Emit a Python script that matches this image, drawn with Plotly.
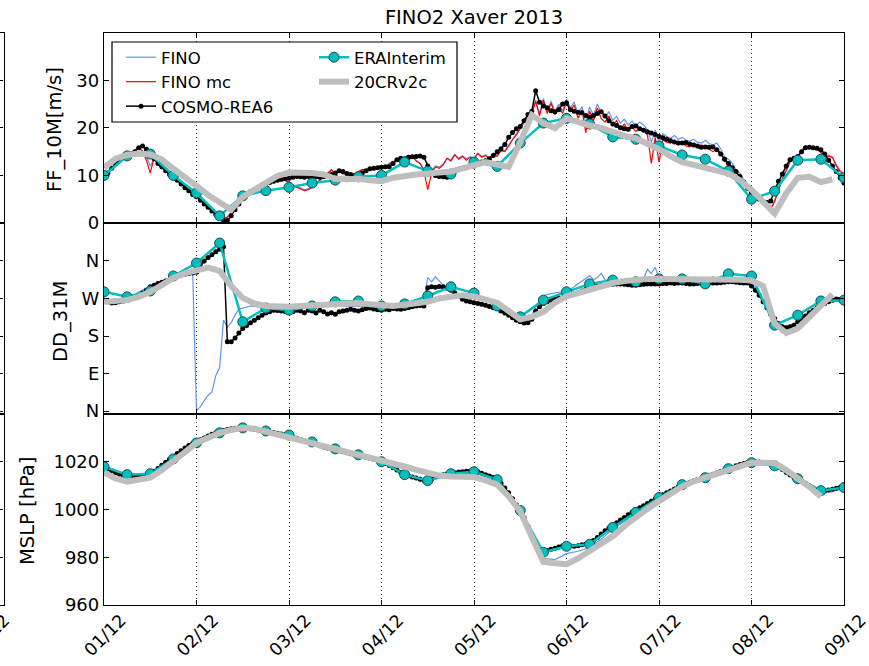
import pandas as pd
import plotly.graph_objects as go

W, H = 869, 666
T0 = "2013-12-01 00:00"

# ---------------- data ----------------
# FF_10M [m/s], hourly
ff_fino = [
    9.8,10.6,11.6,12.2,13.3,14.2,14.0,14.6, 15.4,15.8,15.2,13.8,12.0,13.5,12.5,11.6, 11.0,10.2,9.6,9.0,8.2,7.6,6.8,6.0,
    5.4,4.9,4.0,3.2,2.6,1.8,1.4,1.1, 1.3,2.2,3.3,4.4,5.2,6.2,6.9,7.4, 7.5,8.1,8.2,8.6,8.6,9.0,9.0,9.0,
    8.6,8.0,7.6,7.4,7.0,7.2,7.6,8.4, 9.0,9.8,10.5,11.0,10.5,10.8,10.5,10.6, 10.0,10.4,10.9,11.2,11.2,11.6,11.6,11.9,
    12.1,11.9,12.5,12.9,13.3,13.0,13.6,13.4, 14.0,13.2,12.6,11.4,10.5,11.0,12.0,11.8, 12.4,13.6,13.3,14.4,13.6,14.1,13.5,13.9,
    13.7,14.7,14.0,14.3,13.7,14.7,14.2,15.3, 15.2,16.4,17.7,18.8,20.0,21.3,22.8,23.4, 25.8,23.0,26.2,23.6,25.6,23.4,25.0,23.6,
    26.0,24.2,25.4,23.0,24.5,21.0,24.4,22.6, 25.0,23.2,22.2,23.4,21.6,22.4,21.0,21.8, 20.6,21.4,20.4,21.2,20.6,19.6,17.0,19.5,
    17.0,18.8,18.2,17.8,18.4,17.6,18.0,17.4, 17.2,17.6,17.0,16.8,17.4,16.7,16.4,16.8, 15.6,14.0,13.4,12.6,11.2,10.4,9.0,7.6,
    6.3,5.6,5.0,4.0,3.6,3.2,4.7,7.2, 9.4,11.2,13.0,13.7,14.0,15.4,16.2,16.0, 15.7,15.8,15.0,14.2,14.2,13.9,12.2,11.0, 10.4]
ff_fino_mc = [
    9.5,10.8,11.8,12.0,13.5,14.0,13.8,14.8, 15.2,16.0,15.0,13.2,10.5,13.8,12.2,11.5, 11.2,10.0,9.5,9.2,8.0,7.8,6.5,6.2,
    5.2,5.0,4.2,3.0,2.8,1.6,1.5,1.0, 1.2,2.0,3.2,4.5,5.0,6.4,6.8,7.5, 7.2,8.3,8.0,8.9,8.4,9.3,8.8,9.0,
    8.5,7.8,7.5,7.2,6.8,7.0,7.5,8.2, 9.0,9.6,10.4,11.2,10.2,10.8,10.3,10.6, 9.8,10.4,10.8,11.2,11.0,11.6,11.4,11.8,
    12.0,11.6,12.4,12.8,13.2,12.8,13.6,13.2, 14.0,13.0,12.5,11.0,7.0,10.5,11.8,11.5, 12.2,13.6,13.0,14.3,13.4,14.0,13.2,13.8,
    13.5,14.6,13.8,14.2,13.5,14.6,14.0,15.2, 15.0,16.2,17.5,18.5,19.8,21.0,22.5,23.0, 25.5,22.5,25.8,23.0,25.2,22.8,24.5,23.0,
    25.5,23.5,24.8,22.0,23.8,19.0,23.5,21.5, 24.2,22.0,21.2,22.5,20.5,21.5,19.8,20.8, 19.5,20.2,19.2,20.0,19.4,18.5,12.5,18.0,
    12.8,17.5,17.0,16.8,17.2,16.5,16.8,16.2, 16.0,16.5,15.8,15.5,16.2,15.5,15.0,15.6, 14.8,13.0,12.5,11.8,10.5,9.8,8.5,7.2,
    6.0,5.5,4.8,3.8,3.4,3.0,4.5,7.0, 9.2,11.0,12.8,13.5,13.8,15.2,16.0,15.8, 15.5,15.6,14.8,14.0,14.0,13.8,12.0,10.8, 10.2]
ff_cosmo = [
    10.0,10.5,11.5,12.5,13.2,13.8,14.2,14.5, 15.0,15.8,16.2,15.5,14.5,13.5,12.5,11.8, 11.0,10.2,9.6,9.0,8.2,7.4,6.8,6.0,
    5.5,4.8,4.0,3.3,2.5,1.8,1.2,0.6, 0.5,1.5,2.8,4.0,5.3,6.0,6.6,7.0, 7.5,8.0,8.3,8.5,8.8,9.0,9.2,9.3,
    9.4,9.6,9.8,9.7,9.6,9.8,9.6,9.7, 9.6,9.7,10.0,10.2,10.5,11.0,10.8,10.4, 10.2,10.0,10.2,10.5,11.0,11.4,11.5,11.6,
    11.7,11.8,11.8,12.5,13.3,13.6,13.5,13.8, 13.9,14.0,14.1,13.8,12.0,10.5,10.0,9.8, 9.7,9.6,10.2,10.8,11.3,11.5,11.6,11.8,
    12.0,12.3,12.8,13.1,13.5,14.2,15.0,15.6, 16.5,18.0,19.0,19.8,20.3,21.5,22.8,23.5, 27.8,25.4,24.6,24.2,23.6,23.4,23.8,25.0,
    25.3,23.8,23.5,23.3,23.2,22.6,22.2,22.6, 23.0,23.4,22.5,21.5,20.8,20.5,20.0,19.8, 19.7,20.3,20.4,19.8,19.5,19.2,18.9,18.6,
    18.2,17.9,17.6,17.3,17.0,16.8,16.8,16.9, 16.6,16.4,16.2,16.0,16.0,15.9,16.0,15.4, 14.5,13.4,12.5,11.6,10.8,9.8,8.6,7.3,
    6.4,5.5,5.0,4.5,4.3,4.6,7.0,8.8, 10.3,12.0,13.3,13.6,14.0,15.0,15.8,15.9, 15.8,15.7,15.4,14.5,13.2,12.0,10.8,9.5, 8.4]
# 6-hourly
ff_era = [10.0,14.1,14.5,10.0,6.3,1.5,5.7,6.8,7.5,8.4,9.0,9.7,10.0,12.8,10.9,10.3,12.8,
          11.9,16.8,21.0,22.0,20.8,18.1,17.6,16.2,14.3,13.4,10.9,5.0,6.7,13.2,13.4,9.5]
# 3-hourly
ff_20cr = [11.6,13.5,14.3,14.6,14.4,13.4,11.4,9.4, 7.8,5.9,4.2,2.8,5.5,6.9,8.6,9.9,
           10.6,10.6,10.5,10.2,9.3,9.2,9.3,9.0, 8.8,9.5,10.0,10.2,10.4,10.6,10.8,11.5,
           12.2,12.8,12.3,11.8,17.0,22.7,21.0,19.9, 22.0,21.2,20.5,20.0,19.0,18.3,17.8,16.8,
           15.5,14.0,12.8,12.2,11.7,11.0,10.4,9.0, 7.0,4.5,2.0,6.2,9.5,9.7,8.6,9.2, None]

# DD_31M [deg], hourly
dd_fino = [
    262,260,258,262,265,268,272,275, 280,285,290,296,300,305,308,312, 316,320,324,327,329,331,333,334,
    2,10,25,38,46,85,105,218, 202,212,230,245,247,250,252,251, 250,252,250,252,251,250,252,250,
    250,249,248,250,252,251,250,253, 255,252,250,253,256,254,252,251, 250,252,253,251,250,252,254,252,
    250,252,251,253,255,254,256,258, 260,262,263,265,320,310,322,312, 302,298,292,285,278,272,268,265,
    262,260,258,256,254,252,250,246, 241,236,230,224,220,216,218,228, 250,262,275,280,282,284,285,286,
    288,292,298,305,312,318,325,315, 320,330,315,312,313,315,312,314, 316,318,312,314,318,340,330,345,
    318,312,310,312,310,311,310,312, 310,311,312,310,311,316,322,318, 315,325,318,316,314,313,312,310,
    305,295,280,265,250,235,222,212, 206,204,206,210,216,222,230,238, 244,250,256,260,264,268,272,270, 268]
dd_cosmo = [
    266,262,259,260,262,264,266,270, 274,278,283,290,298,302,306,309, 312,315,320,323,326,328,330,331,
    333,345,360,368,375,382,388,394, 166,166,175,187,198,205,212,218, 224,230,235,238,242,241,240,239,
    240,238,242,240,236,242,240,235, 242,238,233,236,232,238,240,242, 244,242,240,243,246,247,245,243,
    242,244,243,246,245,244,246,248, 250,252,253,252,296,298,297,299, 298,295,290,284,276,268,264,262,
    260,258,256,254,251,248,246,240, 235,230,224,218,214,211,212,220, 240,250,258,262,266,269,271,272,
    274,278,281,284,288,292,295,298, 300,301,302,303,304,305,305,304, 303,302,302,303,304,305,305,305,
    305,306,306,307,306,307,307,306, 305,305,306,307,306,307,307,307, 308,309,310,310,309,308,307,307,
    300,290,278,262,248,232,222,210, 202,200,202,206,214,220,228,236, 242,248,254,258,262,266,269,268, 266]
dd_era = [286,274,288,324,355,403,214,247,242,252,262,264,252,257,276,298,283,
          252,226,266,286,305,314,310,317,317,305,329,324,206,230,264,266]
dd_20cr = [262,264,266,274,286,302,319,330, 338,344,336,300,271,258,252,250,
           250,252,253,254,256,258,259,256, 253,252,255,258,262,270,275,278,
           275,268,260,240,220,226,238,260, 275,283,292,300,307,312,315,317,
           317,317,317,317,317,317,316,315, 313,300,210,187,198,225,255,280, None]

# MSLP [hPa]
p_fino = [1017.5,1015.0,1013.5,1013.2,1014.2,1017.0,1020.6,1024.3,
          1027.8,1030.4,1032.2,1033.6,1034.0,1033.6,1032.7,1031.8,
          1030.8,1029.2,1027.8,1026.5,1025.0,1023.8,1022.5,1021.4,
          1019.8,1017.2,1014.2,1012.8,1011.8,1013.8,1014.8,1015.6,
          1016.0,1014.4,1012.6,1006.8,999.0,988.5,979.5,979.0,
          981.5,982.5,984.0,987.5,991.8,995.0,998.4,1001.8,
          1004.8,1007.8,1010.2,1011.8,1013.4,1014.9,1016.9,1018.7,
          1019.6,1019.4,1018.4,1015.2,1012.2,1009.2,1007.0,1007.5, 1009.2]  # 3-hourly
p_cosmo = [
    1017.9,1017.0,1016.2,1015.4,1014.8,1014.2,1013.8,1013.6, 1013.6,1013.8,1014.0,1014.4,1015.0,1016.0,1017.2,1018.5,
    1019.8,1021.0,1022.2,1023.5,1024.6,1025.8,1026.8,1027.6,
    1028.4,1029.2,1030.0,1030.8,1031.5,1032.1,1032.6,1033.1, 1033.5,1033.8,1034.0,1034.2,1034.2,1034.0,1033.8,1033.6,
    1033.3,1033.0,1032.8,1032.5,1032.2,1031.9,1031.6,1031.3,
    1031.0,1030.4,1029.8,1029.2,1028.7,1028.2,1027.9,1027.2, 1026.7,1026.2,1025.8,1025.4,1025.0,1024.6,1024.2,1023.8,
    1023.3,1022.9,1022.5,1022.2,1021.9,1021.5,1021.0,1020.5,
    1020.0,1019.3,1018.4,1017.5,1016.5,1015.5,1014.6,1014.1, 1013.6,1013.2,1012.7,1012.3,1012.1,1012.8,1013.6,1014.2,
    1014.6,1014.9,1015.1,1015.4,1015.7,1015.8,1016.0,1016.1,
    1016.2,1015.8,1015.2,1014.6,1014.0,1013.4,1012.9,1011.0, 1009.0,1007.0,1004.5,1002.0,999.6,996.5,993.0,989.5,
    986.5,983.5,982.1,982.8,983.3,983.8,984.3,984.8,
    985.0,984.8,984.6,984.8,985.2,985.6,985.9,987.0, 988.3,989.7,991.1,992.3,993.4,994.5,995.6,996.7,
    997.8,998.9,999.8,1000.7,1001.6,1002.5,1003.5,1004.4,
    1005.3,1006.2,1007.0,1007.8,1008.6,1009.4,1010.2,1010.8, 1011.4,1012.0,1012.6,1013.2,1013.8,1014.3,1014.8,1015.3,
    1015.9,1016.5,1017.1,1017.7,1018.3,1018.8,1019.3,1019.7,
    1020.0,1020.0,1019.9,1019.7,1019.5,1019.0,1018.6,1017.8, 1016.8,1015.6,1014.4,1013.4,1012.7,1011.9,1011.0,1010.0,
    1009.0,1008.2,1007.8,1007.9,1008.2,1008.5,1008.9,1009.3, 1009.6]
p_era = [1017.9,1014.6,1015.0,1021.2,1027.9,1032.1,1034.2,1032.9,1031.2,1028.3,1025.4,
         1022.9,1020.0,1014.6,1012.1,1015.0,1015.8,1012.5,999.6,982.1,984.6,985.4,992.5,
         998.8,1005.0,1010.4,1013.3,1017.1,1019.6,1018.3,1012.9,1007.9,1009.2]
p_20cr = [1015.5,1013.0,1011.7,1012.2,1013.3,1016.5,1020.0,1024.0,
          1027.9,1030.2,1032.1,1033.3,1034.2,1033.8,1032.6,1031.5,
          1030.4,1029.4,1028.2,1027.0,1025.8,1024.6,1023.4,1021.9,
          1020.6,1019.2,1018.0,1016.6,1015.2,1014.2,1013.8,1013.8,
          1013.6,1012.2,1010.4,1005.5,999.2,988.5,978.0,977.5,
          977.1,979.5,982.5,985.3,988.8,993.0,996.8,1000.3,
          1003.5,1006.7,1009.6,1011.8,1013.5,1015.1,1016.5,1018.1,
          1019.6,1019.8,1019.5,1016.5,1013.3,1009.5,1005.4,None, None]

day_ticks = [d.strftime("%Y-%m-%d") for d in pd.date_range("2013-12-01", "2013-12-09", freq="D")]
ff_ticks = [0, 10, 20, 30]
dd_ticks = [0, 90, 180, 270, 360]
dd_labels = ["N", "E", "S", "W", "N"]
p_ticks = [960, 980, 1000, 1020]
ylabels = ["FF_10M[m/s]", "DD_31M", "MSLP [hPa]"]


def times(n, freq):
    return pd.date_range(T0, periods=n, freq=freq)


# ---------------- style ----------------
FONT = "DejaVu Sans"
C_FINO, C_MC, C_COSMO, C_ERA, C_20 = "#6495ED", "#FF0000", "#000000", "#00BFBF", "#BEBEBE"

fig = go.Figure()


def add_panel(k, fino, fino_freq, mc, cosmo, era, cr):
    xa = "x" if k == 1 else f"x{k}"
    ya = "y" if k == 1 else f"y{k}"
    show = k == 1
    fig.add_trace(go.Scatter(x=times(len(fino), fino_freq), y=fino, mode="lines", name="FINO",
                             line=dict(color=C_FINO, width=1.2), xaxis=xa, yaxis=ya,
                             legend="legend", legendgroup="fino", showlegend=show))
    if mc is not None:
        fig.add_trace(go.Scatter(x=times(len(mc), "h"), y=mc, mode="lines", name="FINO mc",
                                 line=dict(color=C_MC, width=1.2), xaxis=xa, yaxis=ya,
                                 legend="legend", legendgroup="mc", showlegend=show))
    fig.add_trace(go.Scatter(x=times(len(cosmo), "h"), y=cosmo, mode="lines+markers", name="COSMO-REA6",
                             line=dict(color=C_COSMO, width=1.5),
                             marker=dict(color=C_COSMO, size=5, symbol="circle"),
                             xaxis=xa, yaxis=ya, legend="legend", legendgroup="cosmo", showlegend=show))
    fig.add_trace(go.Scatter(x=times(len(era), "6h"), y=era, mode="lines+markers", name="ERAInterim",
                             line=dict(color=C_ERA, width=2.5),
                             marker=dict(color=C_ERA, size=10, symbol="circle",
                                         line=dict(color="#1f4f4f", width=1)),
                             xaxis=xa, yaxis=ya, legend="legend2", legendgroup="era", showlegend=show))
    fig.add_trace(go.Scatter(x=times(len(cr), "3h"), y=cr, mode="lines", name="20CRv2c",
                             line=dict(color=C_20, width=6), xaxis=xa, yaxis=ya,
                             legend="legend2", legendgroup="cr", showlegend=show))


add_panel(1, ff_fino, "h", ff_fino_mc, ff_cosmo, ff_era, ff_20cr)
add_panel(2, dd_fino, "h", None, dd_cosmo, dd_era, dd_20cr)
add_panel(3, p_fino, "3h", None, p_cosmo, p_era, p_20cr)

# stub of the neighbouring panel on the far left (only its right edge is visible)
for k in (4, 5, 6):
    fig.add_trace(go.Scatter(x=[], y=[], xaxis=f"x{k}", yaxis=f"y{k}", showlegend=False))

# ---------------- layout ----------------
def px(v):
    return v / W


def py(v):
    return 1 - v / H


rows = [(32.7, 223.0), (223.0, 414.0), (414.0, 605.0)]
x_dom = [px(104), px(844)]
stub_dom = [0, px(3.5)]

axis_line = dict(showline=True, linecolor="black", linewidth=1.3, zeroline=False, automargin=False)
tickfont = dict(family=FONT, size=18, color="black")
xtickfont = dict(family=FONT, size=17.5, color="black")

layout = dict(
    template="none",
    width=W, height=H, margin=dict(l=0, r=0, t=0, b=0, pad=0, autoexpand=False),
    paper_bgcolor="white", plot_bgcolor="white",
    font=dict(family=FONT, color="black"),
    title=dict(text="FINO2 Xaver 2013", x=px(474), xanchor="center", y=py(17), yanchor="middle",
               xref="paper", yref="container", automargin=False,
               font=dict(family=FONT, size=19.5, color="black")),
    showlegend=True,
)

yranges = [[0, 40], [-7, 451], [960, 1040]]
ytickvals = [ff_ticks, dd_ticks, p_ticks]
yticktext = [[str(v) for v in ff_ticks], dd_labels, [str(v) for v in p_ticks]]

for i, (top, bot) in enumerate(rows):
    k = i + 1
    xname = "xaxis" if k == 1 else f"xaxis{k}"
    yname = "yaxis" if k == 1 else f"yaxis{k}"
    xref = "x" if k == 1 else f"x{k}"
    yref = "y" if k == 1 else f"y{k}"
    layout[xname] = dict(
        type="date", domain=x_dom, anchor=yref, range=["2013-12-01", "2013-12-09"],
        tickvals=day_ticks, tickformat="%d/%m", tickangle=-45,
        showticklabels=(k == 3), tickfont=xtickfont, ticklabelshift=17, ticklabelstandoff=-3,
        ticklabeloverflow="allow",
        ticks="inside", ticklen=5, tickwidth=1, tickcolor="black", mirror="ticks",
        showgrid=True, gridcolor="#333333", griddash="1px,3px", gridwidth=1,
        **axis_line,
    )
    if k > 1:
        layout[xname]["matches"] = "x"
    layout[yname] = dict(
        domain=[py(bot), py(top)], anchor=xref, range=yranges[i],
        tickvals=ytickvals[i], ticktext=yticktext[i], tickfont=tickfont,
        ticks="inside", ticklen=5, tickwidth=1, tickcolor="black", mirror="ticks",
        showgrid=False, **axis_line,
    )
    # stub axes
    sk = k + 3
    layout[f"xaxis{sk}"] = dict(
        type="date", domain=stub_dom, anchor=f"y{sk}", range=["2013-12-08 20:00", "2013-12-09"],
        tickvals=["2013-12-09"], tickformat="%d/%m", tickangle=-45, showticklabels=(k == 3),
        tickfont=xtickfont, ticklabelshift=1, ticklabelstandoff=-3, ticklabeloverflow="allow",
        ticks="", mirror=True, showgrid=False, **axis_line,
    )
    layout[f"yaxis{sk}"] = dict(
        domain=[py(bot), py(top)], anchor=f"x{sk}", range=yranges[i], side="right",
        tickvals=ytickvals[i], showticklabels=False, ticks="inside", ticklen=5,
        tickcolor="black", showgrid=False, **axis_line,
    )

leg_common = dict(yanchor="top", xanchor="left", bgcolor="rgba(0,0,0,0)", borderwidth=0,
                  font=dict(family=FONT, size=16.5, color="black"), tracegroupgap=0,
                  itemwidth=30, orientation="v")
layout["legend"] = dict(x=px(121), y=py(40), **leg_common)
layout["legend2"] = dict(x=px(314), y=py(40), **leg_common)

layout["shapes"] = [dict(type="rect", xref="paper", yref="paper", x0=px(112), x1=px(457),
                         y0=py(122), y1=py(42), line=dict(color="black", width=1.2),
                         fillcolor="white", layer="above")]

ylab_pos = [(55, 130), (60, 321), (27, 511)]
layout["annotations"] = [
    dict(text=t, x=px(xp), y=py(yp), xref="paper", yref="paper", showarrow=False,
         textangle=-90, xanchor="center", yanchor="middle",
         font=dict(family=FONT, size=19.5, color="black"))
    for t, (xp, yp) in zip(ylabels, ylab_pos)
]

fig.update_layout(**layout)
fig.write_html("out.html")
